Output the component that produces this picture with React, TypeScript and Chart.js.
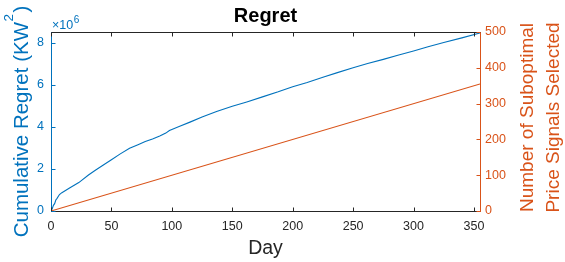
import React, { useEffect, useRef } from "react";
import { Chart, registerables } from "chart.js";

Chart.register(...registerables);

const FONT = "'Liberation Sans', Arial, Helvetica, sans-serif";
const BLUE = "#0072BD";
const ORANGE = "#D95319";
const DARK = "#262626";

const regretDays = [0, 1, 2, 3, 4, 5, 7, 9, 15, 23, 31, 37, 43, 50, 57, 65, 72, 78, 84, 90, 95, 98, 102, 106, 115, 125, 137, 150, 162, 175, 188, 200, 212, 225, 237, 250, 262, 275, 287, 300, 312, 325, 340, 355];
const regretValues = [0, 100000, 270000, 350000, 520000, 600000, 780000, 870000, 1080000, 1350000, 1710000, 1950000, 2170000, 2430000, 2700000, 2980000, 3150000, 3300000, 3420000, 3560000, 3700000, 3820000, 3920000, 4010000, 4220000, 4460000, 4720000, 4970000, 5180000, 5420000, 5660000, 5900000, 6100000, 6350000, 6570000, 6800000, 7000000, 7200000, 7400000, 7600000, 7800000, 8000000, 8220000, 8450000];

const suboptimalDays = [0, 355];
const suboptimalCounts = [0, 355];

const dayTicks = [0, 50, 100, 150, 200, 250, 300, 350];
const regretTicks = [0, 2000000, 4000000, 6000000, 8000000];
const countTicks = [0, 100, 200, 300, 400, 500];

const titleText = "Regret";
const xTitle = "Day";
const leftTitleMain = "Cumulative Regret (KW";
const leftTitleSup = "2";
const leftTitleEnd = ")";
const rightTitleLines = ["Number of Suboptimal", "Price Signals Selected"];

const decorPlugin = {
  id: "decor",
  afterDraw(chart: any) {
    const { ctx, chartArea: a, scales } = chart;
    const line = (x1: number, y1: number, x2: number, y2: number, c: string) => {
      ctx.strokeStyle = c;
      ctx.lineWidth = 1;
      ctx.beginPath();
      ctx.moveTo(x1, y1);
      ctx.lineTo(x2, y2);
      ctx.stroke();
    };
    ctx.save();
    const top = Math.round(a.top) + 0.5;
    const bottom = Math.round(a.bottom) + 0.5;
    const left = Math.round(a.left) + 0.5;
    const right = Math.round(a.right) + 0.5;
    const tl = 4;
    line(left, top, right, top, DARK);
    scales.x.ticks.forEach((t: any) => {
      const px = Math.round(scales.x.getPixelForValue(t.value)) + 0.5;
      line(px, bottom, px, bottom - tl, DARK);
      line(px, top, px, top + tl, DARK);
    });
    scales.y.ticks.forEach((t: any) => {
      const py = Math.round(scales.y.getPixelForValue(t.value)) + 0.5;
      line(left, py, left + tl, py, BLUE);
    });
    scales.y1.ticks.forEach((t: any) => {
      const py = Math.round(scales.y1.getPixelForValue(t.value)) + 0.5;
      line(right, py, right - tl, py, ORANGE);
    });

    // main title
    ctx.fillStyle = "#000";
    ctx.font = `bold 20px ${FONT}`;
    ctx.textAlign = "center";
    ctx.textBaseline = "alphabetic";
    ctx.fillText(titleText, (a.left + a.right) / 2, 22);

    // x10^6 exponent label
    ctx.fillStyle = BLUE;
    ctx.textAlign = "left";
    ctx.font = `12.5px ${FONT}`;
    ctx.fillText("\u00d710", a.left + 1, 28.5);
    const w10 = ctx.measureText("\u00d710").width;
    ctx.font = `10px ${FONT}`;
    ctx.fillText("6", a.left + 1 + w10 + 0.5, 23);

    // left axis title
    ctx.save();
    ctx.translate(28, (a.top + a.bottom) / 2);
    ctx.rotate(-Math.PI / 2);
    ctx.fillStyle = BLUE;
    ctx.textAlign = "left";
    ctx.font = `20.5px ${FONT}`;
    const wMain = ctx.measureText(leftTitleMain).width;
    const wEnd = ctx.measureText(leftTitleEnd).width;
    ctx.font = `13.5px ${FONT}`;
    const wSup = ctx.measureText(leftTitleSup).width;
    const total = wMain + wSup + 2 + wEnd;
    let x0 = -total / 2;
    ctx.font = `20.5px ${FONT}`;
    ctx.fillText(leftTitleMain, x0, 0);
    x0 += wMain + 0.5;
    ctx.font = `13.5px ${FONT}`;
    ctx.fillText(leftTitleSup, x0, -15.5);
    x0 += wSup + 1.5;
    ctx.font = `20.5px ${FONT}`;
    ctx.fillText(leftTitleEnd, x0, 0);
    ctx.restore();

    // right axis title
    ctx.save();
    ctx.fillStyle = ORANGE;
    ctx.font = `19px ${FONT}`;
    ctx.textAlign = "center";
    const baselines = [533, 559];
    rightTitleLines.forEach((txt, i) => {
      ctx.save();
      ctx.translate(baselines[i], 117.5);
      ctx.rotate(-Math.PI / 2);
      ctx.fillText(txt, 0, 0);
      ctx.restore();
    });
    ctx.restore();

    ctx.restore();
  },
};

export default function App() {
  const canvasRef = useRef<HTMLCanvasElement | null>(null);

  useEffect(() => {
    const canvas = canvasRef.current;
    if (!canvas) return;
    const chart = new Chart(canvas, {
      type: "line",
      data: {
        datasets: [
          {
            label: "Cumulative Regret",
            data: regretDays.map((d, i) => ({ x: d, y: regretValues[i] })),
            borderColor: BLUE,
            backgroundColor: BLUE,
            borderWidth: 1.1,
            pointRadius: 0,
            tension: 0,
            yAxisID: "y",
          },
          {
            label: "Suboptimal",
            data: suboptimalDays.map((d, i) => ({ x: d, y: suboptimalCounts[i] })),
            borderColor: ORANGE,
            backgroundColor: ORANGE,
            borderWidth: 1.1,
            pointRadius: 0,
            tension: 0,
            yAxisID: "y1",
          },
        ],
      },
      options: {
        responsive: false,
        animation: false,
        devicePixelRatio: 1,
        layout: { padding: { top: 32, left: 0, right: 0, bottom: 0 } },
        plugins: {
          legend: { display: false },
          title: { display: false },
          tooltip: { enabled: false },
        },
        scales: {
          x: {
            type: "linear",
            position: "bottom",
            min: 0,
            max: 355,
            grid: { display: false, drawTicks: false },
            border: { display: true, color: DARK, width: 1 },
            afterBuildTicks: (s: any) => {
              s.ticks = dayTicks.map((v) => ({ value: v }));
            },
            ticks: {
              color: DARK,
              font: { family: FONT, size: 12.5 },
              padding: 8,
              maxRotation: 0,
              autoSkip: false,
              includeBounds: false,
            },
            title: {
              display: true,
              text: xTitle,
              color: DARK,
              font: { family: FONT, size: 19.5 },
              padding: { top: 0, bottom: 2 },
            },
            afterFit: (s: any) => {
              s.height = 51;
            },
          },
          y: {
            type: "linear",
            position: "left",
            min: 0,
            max: 8500000,
            grid: { display: false, drawTicks: false },
            border: { display: true, color: BLUE, width: 1 },
            afterBuildTicks: (s: any) => {
              s.ticks = regretTicks.map((v) => ({ value: v }));
            },
            ticks: {
              color: BLUE,
              font: { family: FONT, size: 12.5 },
              padding: 7,
              includeBounds: false,
              callback: (v: any) => String(Number(v) / 1000000),
            },
            afterFit: (s: any) => {
              s.width = 51;
            },
          },
          y1: {
            type: "linear",
            position: "right",
            min: 0,
            max: 500,
            grid: { display: false, drawTicks: false },
            border: { display: true, color: ORANGE, width: 1 },
            afterBuildTicks: (s: any) => {
              s.ticks = countTicks.map((v) => ({ value: v }));
            },
            ticks: {
              color: ORANGE,
              font: { family: FONT, size: 12.5 },
              padding: 5,
              includeBounds: false,
            },
            afterFit: (s: any) => {
              s.width = 85;
            },
          },
        },
      },
      plugins: [decorPlugin],
    } as any);
    return () => chart.destroy();
  }, []);

  return (
    <div style={{ position: "fixed", left: 0, top: 0, width: 565, height: 262, background: "#fff" }}>
      <canvas ref={canvasRef} width={565} height={262} style={{ display: "block" }} />
    </div>
  );
}
